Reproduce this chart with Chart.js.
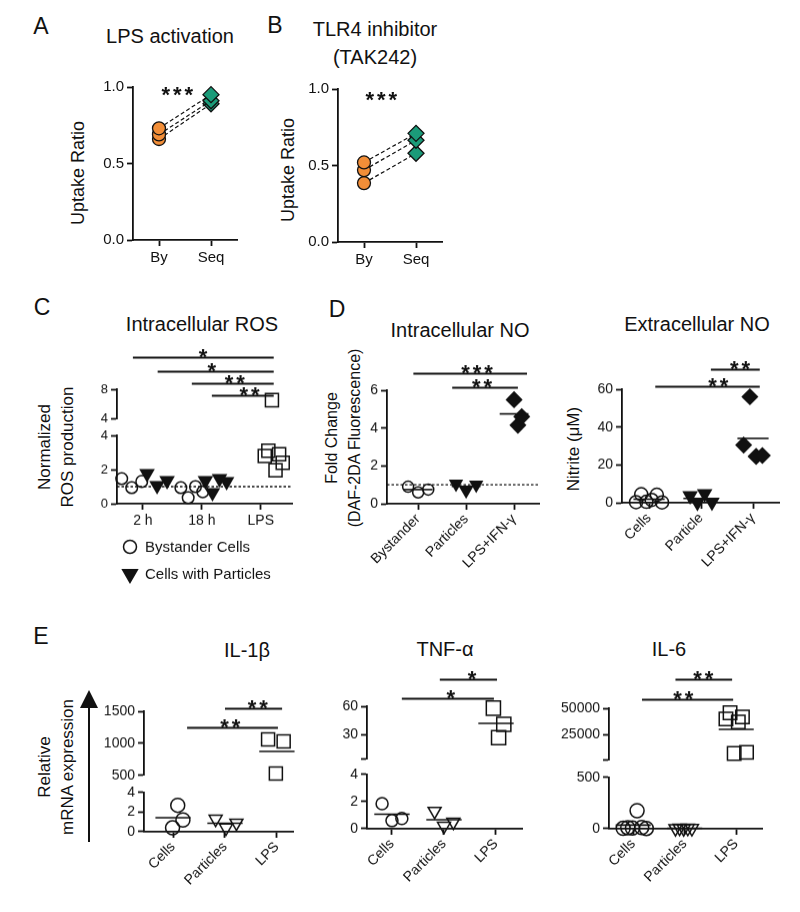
<!DOCTYPE html>
<html>
<head>
<meta charset="utf-8">
<script src="https://cdn.jsdelivr.net/npm/chart.js@4.4.0/dist/chart.umd.min.js"></script>
<style>
body { margin:0; width:800px; height:912px; background:#fff; position:relative; overflow:hidden;
       font-family:"Liberation Sans", Arial, sans-serif; color:#111; }
.box { position:absolute; }
.t { position:absolute; transform:translate(-50%,-50%); white-space:nowrap; text-align:center; }
.let { font-size:23px; }
.ttl { font-size:20px; line-height:28px; }
.yt { position:absolute; transform:translate(-50%,-50%) rotate(-90deg); white-space:nowrap; text-align:center; font-size:17px; line-height:23px; }
</style>
</head>
<body>

<div class="t let" style="left:41px;top:26px">A</div>
<div class="t let" style="left:275px;top:25px">B</div>
<div class="t let" style="left:42px;top:307px">C</div>
<div class="t let" style="left:337px;top:309px">D</div>
<div class="t let" style="left:41px;top:636px">E</div>

<div class="t ttl" style="left:170px;top:36px">LPS activation</div>
<div class="t ttl" style="left:375px;top:43px">TLR4 inhibitor<br>(TAK242)</div>
<div class="t ttl" style="left:202px;top:324px">Intracellular ROS</div>
<div class="t ttl" style="left:460px;top:330px">Intracellular NO</div>
<div class="t ttl" style="left:697px;top:324px">Extracellular NO</div>
<div class="t ttl" style="left:247px;top:650px">IL-1β</div>
<div class="t ttl" style="left:445px;top:649px">TNF-α</div>
<div class="t ttl" style="left:669px;top:649px">IL-6</div>

<div class="yt" style="left:78px;top:173px;font-size:18px">Uptake Ratio</div>
<div class="yt" style="left:288px;top:170px;font-size:18px">Uptake Ratio</div>
<div class="yt" style="left:56px;top:447px">Normalized<br>ROS production</div>
<div class="yt" style="left:343px;top:438px;font-size:16px">Fold Change<br>(DAF-2DA Fluorescence)</div>
<div class="yt" style="left:573px;top:449px">Nitrite (μM)</div>
<div class="yt" style="left:56px;top:767px">Relative<br>mRNA expression</div>

<svg class="box" style="left:0;top:0" width="800" height="912">
  <line x1="89" y1="842" x2="89" y2="704" stroke="#111" stroke-width="2"/>
  <polygon points="89,690 80,708 98,708" fill="#111"/>
</svg>

<script>
// ---------- data ----------
// A: LPS activation (uptake ratio, paired)
const abGroups = ['By', 'Seq'];
const aBy = [0.73, 0.69, 0.66];
const aSeq = [0.95, 0.91, 0.89];
// B: TLR4 inhibitor
const bBy = [0.52, 0.47, 0.385];
const bSeq = [0.71, 0.665, 0.58];
const abTicks = [0, 0.5, 1];
const abTickLabels = ['0.0', '0.5', '1.0'];

// C: intracellular ROS
const cGroups = ['2 h', '18 h', 'LPS'];
const cBy2h = [1.47, 0.94, 1.3];
const cPart2h = [1.76, 1.06, 1.35];
const cBy18h = [0.94, 0.35, 1.0, 0.7];
const cPart18h = [1.35, 0.65, 1.47, 1.3];
const cLps = [2.8, 3.1, 6.5, 1.95, 2.9, 2.4];
const cTicksLow = [0, 2, 4];
const cTicksUp = [4, 8];
const cBaseline = 1;

// D: intracellular NO
const dlGroups = ['Bystander', 'Particles', 'LPS+IFN-γ'];
const dlBy = [0.9, 0.6, 0.75];
const dlPart = [1.05, 0.7, 1.0];
const dlLps = [5.5, 4.15, 4.6];
const dlTicks = [0, 2, 4, 6];
const dlBaseline = 1;
// D: extracellular NO (nitrite, µM)
const drGroups = ['Cells', 'Particle', 'LPS+IFN-γ'];
const drCells = [0.3, 4.5, 0.5, 1.5, 4.2, 0.2];
const drPart = [3.7, 0.2, 4.8, 0.3];
const drLps = [30.5, 56, 24.5, 25];
const drTicks = [0, 20, 40, 60];

// E: relative mRNA expression
const eGroups = ['Cells', 'Particles', 'LPS'];
const e1Cells = [0.4, 2.7, 1.2];
const e1Part = [1.3, 0.4, 0.9];
const e1Lps = [1062, 530, 1030];
const e1TicksLow = [0, 2, 4];
const e1TicksUp = [500, 1000, 1500];
const e2Cells = [1.85, 0.6, 0.75];
const e2Part = [1.3, 0.2, 0.5];
const e2Lps = [58, 27, 41];
const e2TicksLow = [0, 2, 4];
const e2TicksUp = [4, 30, 60];
const e2UpLabels = ['', '30', '60'];
const e3Cells = [4, 10, 6, 176, 12, 3];
const e3Part = [3, 8, 2, 6, 4];
const e3Lps = [39900, 45700, 7200, 37000, 41800, 8200];
const e3TicksLow = [0, 500];
const e3TicksUp = [500, 25000, 50000];
const e3UpLabels = ['', '25000', '50000'];

// significance annotations (x in group units, y in axis units)
const aSig = [{tx: 1.35, y: 0.95, t: '***'}];
const bSig = [{tx: 1.33, y: 0.93, t: '***'}];
const cSig = [
  {x1: 0.83, x2: 3.22, y: 12.4, tx: 2.02, t: '*'},
  {x1: 1.25, x2: 3.22, y: 10.5, tx: 2.17, t: '*'},
  {x1: 1.83, x2: 3.22, y: 8.8, tx: 2.56, t: '**'},
  {x1: 2.17, x2: 3.22, y: 7.2, tx: 2.81, t: '**'}
];
const dlSig = [
  {x1: 0.9, x2: 3.27, y: 6.88, tx: 2.23, t: '***'},
  {x1: 1.71, x2: 3.08, y: 6.14, tx: 2.33, t: '**'}
];
const drSig = [
  {x1: 1.12, x2: 3.13, y: 61.7, tx: 2.33, t: '**'},
  {x1: 2.19, x2: 3.13, y: 70.7, tx: 2.75, t: '**'}
];
const e1Sig = [
  {x1: 1.27, x2: 3.02, y: 1250, tx: 2.1, t: '**'},
  {x1: 2.0, x2: 3.1, y: 1547, tx: 2.63, t: '**'}
];
const e2Sig = [
  {x1: 1.19, x2: 2.96, y: 68.5, tx: 2.13, t: '*'},
  {x1: 1.92, x2: 3.02, y: 88.6, tx: 2.54, t: '*'}
];
const e3Sig = [
  {x1: 1.17, x2: 2.94, y: 59000, tx: 1.97, t: '**'},
  {x1: 1.82, x2: 2.92, y: 77600, tx: 2.36, t: '**'}
];

// ---------- helpers ----------
const INK = '#111';
const ORANGE = '#F28E38';
const GREEN = '#1B9B79';
const NONE = 'rgba(0,0,0,0)';
const YW = 64; // fixed y-axis box width, so stacked axes never get squeezed
const AXW = 1.8;
Chart.defaults.font.family = '"Liberation Sans", Arial, sans-serif';
Chart.defaults.color = INK;

function spread(center, vals, step) {
  return vals.map((v, i) => ({x: center + (i - (vals.length - 1) / 2) * step, y: v}));
}
function mk(shape, r, fill, rot) {
  return {pointStyle: shape, pointRadius: r, pointBackgroundColor: fill, pointBorderColor: INK,
          pointBorderWidth: 1.5, pointRotation: rot || 0};
}
function pts(data, st, axis) {
  return Object.assign({data: data, showLine: false, clip: false, yAxisID: axis}, st);
}
function group(data, st, brk) {
  if (brk === undefined) return [pts(data, st, 'y')];
  return [pts(data.filter(p => p.y <= brk), st, 'y'), pts(data.filter(p => p.y > brk), st, 'yUp')];
}
function seg(data, axis, dash, width) {
  return {data: data, showLine: true, pointRadius: 0, borderColor: INK, borderWidth: width || 1.6,
          borderDash: dash || [], clip: false, yAxisID: axis || 'y'};
}
function mean(center, vals, half, brk) {
  const m = vals.reduce((a, b) => a + b, 0) / vals.length;
  return seg([{x: center - half, y: m}, {x: center + half, y: m}], brk !== undefined && m > brk ? 'yUp' : 'y');
}

function xAxis(min, max, labels, rot, size) {
  return {
    type: 'linear', position: 'bottom', min: min, max: max,
    afterBuildTicks: ax => { ax.ticks = labels.map((l, i) => ({value: i + 1})); },
    ticks: {callback: (v, i) => labels[i], autoSkip: false, maxRotation: rot, minRotation: rot,
            padding: rot ? 1 : 3, font: {size: size}, color: INK},
    grid: {drawOnChartArea: false, drawTicks: true, tickLength: 6, tickColor: INK, tickWidth: AXW},
    border: {color: INK, width: AXW}
  };
}
function yAxis(min, max, ticks, labels, size, extra) {
  return Object.assign({
    type: 'linear', position: 'left', min: min, max: max,
    afterBuildTicks: ax => { ax.ticks = ticks.map(v => ({value: v})); },
    afterFit: ax => { ax.width = YW; },
    ticks: {callback: (v, i) => labels ? labels[i] : String(v), autoSkip: false, padding: 3,
            font: {size: size}, color: INK},
    grid: {drawOnChartArea: false, drawTicks: true, tickLength: 6, tickColor: INK, tickWidth: AXW},
    border: {color: INK, width: AXW}
  }, extra || {});
}
function gapAxis(w) {
  return {type: 'linear', position: 'left', stack: 's', stackWeight: w, display: true,
          afterFit: ax => { ax.width = YW; },
          ticks: {display: false}, grid: {display: false, drawTicks: false}, border: {display: false}};
}

const decor = {
  id: 'decor',
  afterDatasetsDraw(chart, args, o) {
    const ctx = chart.ctx, xs = chart.scales.x;
    ctx.save();
    ctx.strokeStyle = INK; ctx.fillStyle = INK; ctx.lineWidth = AXW;
    (o.sig || []).forEach(s => {
      const ys = chart.scales[o.axis || 'y'];
      const y = Math.round(ys.getPixelForValue(s.y)) + 0.5;
      if (s.x1 !== undefined) {
        ctx.beginPath();
        ctx.moveTo(xs.getPixelForValue(s.x1), y);
        ctx.lineTo(xs.getPixelForValue(s.x2), y);
        ctx.stroke();
      }
      const cx = xs.getPixelForValue(s.tx), n = s.t.length;
      ctx.font = 'bold 22px "Liberation Sans", Arial, sans-serif';
      ctx.textAlign = 'center'; ctx.textBaseline = 'alphabetic';
      for (let i = 0; i < n; i++) ctx.fillText('*', cx + (i - (n - 1) / 2) * 11.5, y + 6);
    });
    if (o.legend) {
      const a = chart.chartArea;
      o.legend.forEach((it, i) => {
        const x = a.left + 13, y = a.bottom + 43 + i * 27;
        ctx.fillStyle = it.pointBackgroundColor; ctx.strokeStyle = INK; ctx.lineWidth = 1.5;
        Chart.helpers.drawPoint(ctx, {pointStyle: it.pointStyle, rotation: it.pointRotation,
          radius: it.legendRadius, borderWidth: 1.5}, x, y);
        ctx.fillStyle = INK;
        ctx.font = '15px "Liberation Sans", Arial, sans-serif';
        ctx.textAlign = 'left'; ctx.textBaseline = 'middle';
        ctx.fillText(it.label, x + 15, y + 1);
      });
    }
    ctx.restore();
  }
};
Chart.register(decor);

function panel(plot, padTop, padBottom, scales, datasets, deco) {
  const wrap = document.createElement('div');
  wrap.className = 'box';
  const cv = document.createElement('canvas');
  wrap.appendChild(cv);
  document.body.appendChild(wrap);
  let left = plot.l - YW, top = plot.t - padTop, w = plot.r + 15 - left, h = plot.b - top + padBottom + 50;
  const setBox = () => Object.assign(wrap.style, {left: left + 'px', top: top + 'px', width: w + 'px', height: h + 'px'});
  setBox();
  const chart = new Chart(cv, {
    type: 'scatter',
    data: {datasets: datasets},
    options: {
      animation: false, responsive: true, maintainAspectRatio: false, events: [],
      layout: {padding: {top: padTop, right: 15, bottom: padBottom, left: 0}},
      scales: scales,
      plugins: {legend: {display: false}, tooltip: {enabled: false}, decor: deco}
    }
  });
  const a = chart.chartArea;
  left = plot.l - a.left;
  w = plot.r + 15 - left;
  h += plot.b - top - a.bottom;
  setBox();
  chart.resize();
  return chart;
}

// ---------- A & B ----------
function pairs(by, seq) {
  return by.map((v, i) => ({
    data: [{x: 1, y: v}, {x: 2, y: seq[i]}], showLine: true, clip: false,
    borderColor: INK, borderWidth: 1.2, borderDash: [4, 2.5],
    pointStyle: ['circle', 'rectRot'], pointRadius: [6.5, 8],
    pointBackgroundColor: [ORANGE, GREEN], pointBorderColor: INK, pointBorderWidth: 1.3
  }));
}
panel({l: 133, r: 237, t: 87, b: 240}, 20, 4,
  {x: xAxis(0.5, 2.5, abGroups, 0, 15), y: yAxis(0, 1, abTicks, abTickLabels, 15)},
  pairs(aBy, aSeq), {sig: aSig});
panel({l: 338, r: 442, t: 89, b: 242}, 20, 4,
  {x: xAxis(0.5, 2.5, abGroups, 0, 15), y: yAxis(0, 1, abTicks, abTickLabels, 15)},
  pairs(bBy, bSeq), {sig: bSig});

// ---------- C ----------
const cOpen = mk('circle', 5.8, NONE);
const cTri = mk('triangle', 7.5, INK, 180);
const cSq = mk('rect', 9.2, NONE);
const cBrk = 4;
panel({l: 117, r: 292, t: 389, b: 503}, 60, 70,
  {
    x: xAxis(0.56, 3.53, cGroups, 0, 14),
    y: yAxis(0, 4, cTicksLow, null, 13, {stack: 's', stackWeight: 68}),
    yGap: gapAxis(17),
    yUp: yAxis(4, 8, cTicksUp, null, 13, {stack: 's', stackWeight: 29})
  },
  [].concat(
    group(spread(0.81, cBy2h, 0.17), cOpen, cBrk),
    group(spread(1.83, cBy18h, 0.124), cOpen, cBrk),
    group(spread(1.24, cPart2h, 0.17), cTri, cBrk),
    group(spread(2.24, cPart18h, 0.12), cTri, cBrk),
    group(spread(3.22, cLps, 0.061), cSq, cBrk),
    [seg([{x: 0.56, y: cBaseline}, {x: 3.53, y: cBaseline}], 'y', [2.5, 2], 1.3)]
  ),
  {sig: cSig, axis: 'yUp', legend: [
    Object.assign({label: 'Bystander Cells', legendRadius: 6.5}, cOpen),
    Object.assign({label: 'Cells with Particles', legendRadius: 8.5}, cTri)
  ]});

// ---------- D ----------
panel({l: 387, r: 539, t: 390, b: 503}, 50, 4,
  {x: xAxis(0.35, 3.52, dlGroups, 45, 14), y: yAxis(0, 6, dlTicks, null, 14)},
  [].concat(
    [mean(1, dlBy, 0.3), mean(2, dlPart, 0.3), mean(3, dlLps, 0.3)],
    [seg([{x: 0.35, y: dlBaseline}, {x: 3.52, y: dlBaseline}], 'y', [2.5, 2], 1.3)],
    group(spread(1, dlBy, 0.21), mk('circle', 5.5, NONE)),
    group(spread(2, dlPart, 0.21), mk('triangle', 6.8, INK, 180)),
    group(spread(3.08, dlLps, 0.08), mk('rectRot', 7.5, INK))
  ),
  {sig: dlSig});
panel({l: 622, r: 779, t: 389, b: 502}, 50, 4,
  {x: xAxis(0.48, 3.5, drGroups, 45, 14), y: yAxis(0, 60, drTicks, null, 14)},
  [].concat(
    [mean(1, drCells, 0.3), mean(2, drPart, 0.34), mean(3, drLps, 0.3)],
    group(spread(1, drCells, 0.1), mk('circle', 6.5, NONE)),
    group(spread(2, drPart, 0.14), mk('triangle', 7.5, INK, 180)),
    group(spread(3, drLps, 0.12), mk('rectRot', 7.5, INK))
  ),
  {sig: drSig});

// ---------- E ----------
function eChart(plot, xr, low, up, wLow, wGap, wUp, cells, part, lps, pos, sig, rc, rs) {
  const brk = low.ticks[low.ticks.length - 1];
  return panel(plot, 60, 4,
    {
      x: xAxis(xr[0], xr[1], eGroups, 45, 14),
      y: yAxis(low.ticks[0], brk, low.ticks, null, 14, {stack: 's', stackWeight: wLow}),
      yGap: gapAxis(wGap),
      yUp: yAxis(up.ticks[0], up.ticks[up.ticks.length - 1], up.ticks, up.labels, 14, {stack: 's', stackWeight: wUp})
    },
    [].concat(
      [mean(1, cells, 0.34, brk), mean(2, part, 0.34, brk), mean(3, lps, 0.34, brk)],
      group(spread(pos[0][0], cells, pos[0][1]), mk('circle', rc, NONE), brk),
      group(spread(pos[1][0], part, pos[1][1]), mk('triangle', 7.5, NONE, 180), brk),
      group(spread(pos[2][0], lps, pos[2][1]), mk('rect', rs, NONE), brk)
    ),
    {sig: sig, axis: 'yUp'});
}
eChart({l: 144, r: 293, t: 711, b: 831}, [0.44, 3.31],
  {ticks: e1TicksLow}, {ticks: e1TicksUp}, 39, 17, 64,
  e1Cells, e1Part, e1Lps, [[1.09, 0.1], [2.02, 0.2], [2.98, 0.15]], e1Sig, 7, 9.2);
eChart({l: 367, r: 522, t: 706, b: 828}, [0.52, 3.5],
  {ticks: e2TicksLow}, {ticks: e2TicksUp, labels: e2UpLabels}, 54, 15, 53,
  e2Cells, e2Part, e2Lps, [[1, 0.19], [2, 0.18], [3.05, 0.1]], e2Sig, 6, 10);
eChart({l: 609, r: 762, t: 708, b: 828}, [0.53, 3.5],
  {ticks: e3TicksLow}, {ticks: e3TicksUp, labels: e3UpLabels}, 51, 17, 52,
  e3Cells, e3Part, e3Lps, [[1.03, 0.09], [1.98, 0.08], [3.0, 0.08]], e3Sig, 7, 9.5);
</script>
</body>
</html>
